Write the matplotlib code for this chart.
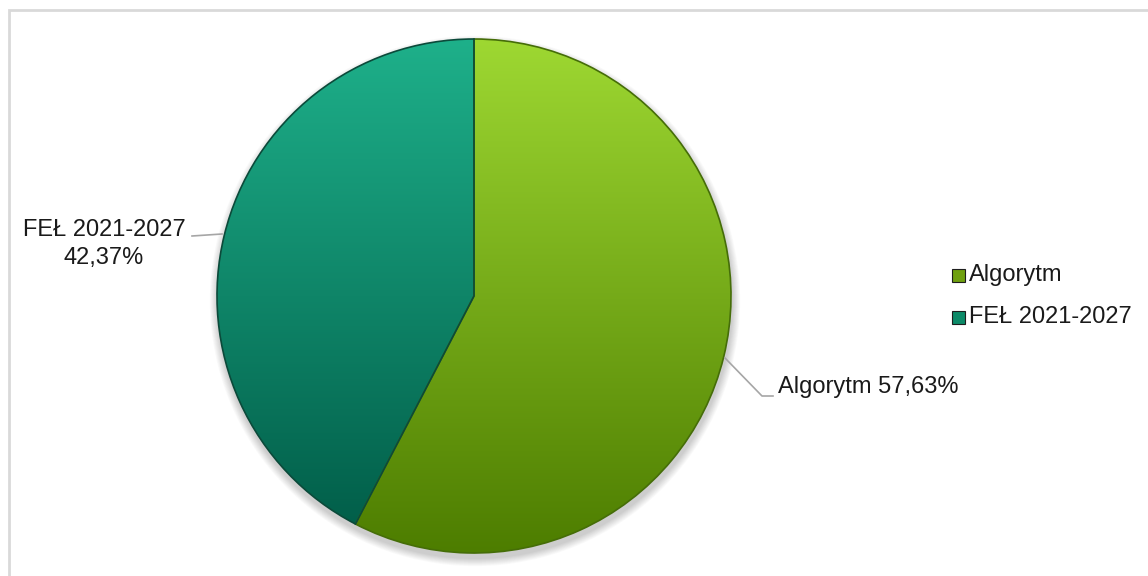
import matplotlib
matplotlib.use("Agg")
import matplotlib.pyplot as plt
import numpy as np
from matplotlib.patches import Rectangle, Circle

plt.rcParams['font.family'] = ['Liberation Sans', 'DejaVu Sans']

# data
labels = ['Algorytm', 'FEŁ 2021-2027']
shares = [57.63, 42.37]
# gradient colours (top, bottom) per slice
grad_top = ['#9ed832', '#1eb08a']
grad_bot = ['#4d7d00', '#005a46']
edge_cols = ['#456d08', '#0b4a3a']
legend_cols = ['#6fa010', '#0c8a68']

W, H = 1148, 576
fig = plt.figure(figsize=(W / 100, H / 100), dpi=100)
ax = fig.add_axes([0, 0, 1, 1])
ax.set_xlim(0, W)
ax.set_ylim(0, H)
ax.axis('off')

cx, cy, r = 474, 280, 257

# soft shadow under the pie
for i in range(10):
    ax.add_patch(Circle((cx + 1, cy - 5), r + 1 + i * 0.8, color='black',
                        alpha=0.018, lw=0, zorder=1))

wedges, _ = ax.pie(shares, startangle=90, counterclock=False,
                   center=(cx, cy), radius=r,
                   wedgeprops=dict(linewidth=1.2))

def hex2rgb(h):
    return np.array([int(h[i:i + 2], 16) for i in (1, 3, 5)]) / 255.0

t = np.linspace(0, 1, 300)[:, None]
for k, w in enumerate(wedges):
    c0, c1 = hex2rgb(grad_top[k]), hex2rgb(grad_bot[k])
    img = (c0[None, :] * (1 - t) + c1[None, :] * t)[:, None, :]
    w.set_facecolor('none')
    w.set_edgecolor(edge_cols[k])
    w.set_zorder(3)
    im = ax.imshow(img, extent=(cx - r, cx + r, cy - r, cy + r),
                   aspect='auto', origin='upper', zorder=2,
                   interpolation='bilinear')
    im.set_clip_path(w)

ax.set_xlim(0, W)
ax.set_ylim(0, H)
ax.set_aspect('auto')

# data labels with leader lines
pct = [f'{v:.2f}'.replace('.', ',') + '%' for v in shares]
ax.plot([725, 762, 773], [H - 358, H - 396, H - 396], color='#a6a6a6', lw=1.2, zorder=4)
ax.text(778, H - 387, f'{labels[0]} {pct[0]}', fontsize=17, va='center', ha='left',
        color='#1a1a1a')
ax.plot([192, 222], [H - 236, H - 234], color='#a6a6a6', lw=1.2, zorder=4)
ax.text(104, H - 244, f'{labels[1]}\n{pct[1]}', fontsize=17, va='center', ha='center',
        color='#1a1a1a', linespacing=1.3)

# legend
leg_y = [275, 317]
for k in range(2):
    y = H - leg_y[k]
    ax.add_patch(Rectangle((952, y - 6.5), 13, 13, facecolor=legend_cols[k],
                           edgecolor='#1e1e1e', lw=0.8, zorder=5))
    ax.text(969, y, labels[k], fontsize=17, va='center', ha='left', color='#1a1a1a')

# chart area border
ax.add_patch(Rectangle((8.5, -20), 1200, (H - 9.5) + 20, fill=False,
                       edgecolor='#d9d9d9', lw=2, zorder=6, clip_on=False))

fig.savefig('out.png', dpi=100)
